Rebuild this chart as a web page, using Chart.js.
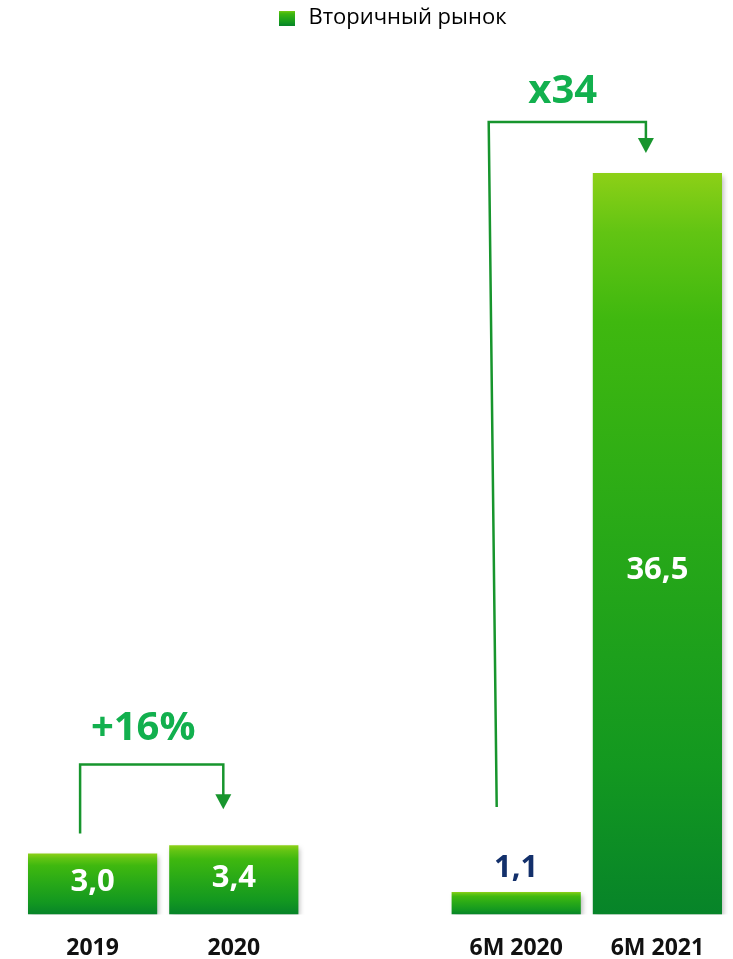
<!DOCTYPE html>
<html>
<head>
<meta charset="utf-8">
<script src="https://cdn.jsdelivr.net/npm/chart.js@4.4.1/dist/chart.umd.min.js"></script>
<style>
  html, body { margin: 0; padding: 0; background: #ffffff; }
  #wrap { width: 733px; height: 959px; position: relative; }
</style>
</head>
<body>
<div id="wrap"><canvas id="c" width="733" height="959"></canvas></div>
<script>
// ---- data ----
const categories = ['2019', '2020', '', '6M 2020', '6M 2021'];
const seriesName = 'Вторичный рынок';
const values = [3.0, 3.4, null, 1.1, 36.5];
const valueLabels = ['3,0', '3,4', '', '1,1', '36,5'];
const growthLabels = ['+16%', 'x34'];

const FONT = "'Open Sans', 'DejaVu Sans', sans-serif";
const ARROW = '#17952d';

function barGradient(ctx, top, bottom) {
  const g = ctx.createLinearGradient(0, top, 0, bottom);
  g.addColorStop(0, '#8dd017');
  g.addColorStop(0.08, '#62c413');
  g.addColorStop(0.2, '#3fb80f');
  g.addColorStop(0.5, '#27a818');
  g.addColorStop(0.8, '#139820');
  g.addColorStop(1, '#078429');
  return g;
}

// legend swatch
const sw = document.createElement('canvas');
sw.width = 16; sw.height = 15;
(function () {
  const c = sw.getContext('2d');
  c.fillStyle = barGradient(c, 0, 15);
  c.fillRect(0, 0, 16, 15);
})();

function scriptedFill(c) {
  const chart = c.chart;
  const y = chart.scales && chart.scales.y;
  if (!y || c.raw == null || !isFinite(y.top)) return '#27a818';
  const top = y.getPixelForValue(c.raw);
  const base = y.getPixelForValue(0);
  if (!isFinite(top) || !isFinite(base) || base - top < 1) return '#27a818';
  return barGradient(chart.ctx, top, base);
}

const gradientPlugin = {
  id: 'gradBars',
  afterLayout(chart) {
    chart.legend.left += 16;
    chart.legend.right += 16;
  },
  beforeDatasetsDraw(chart) {
    const ctx = chart.ctx;
    ctx.save();
    ctx.shadowColor = 'rgba(0,0,0,0.28)';
    ctx.shadowBlur = 5;
    ctx.shadowOffsetX = 2;
    ctx.shadowOffsetY = 3;
  },
  afterDatasetsDraw(chart) {
    const ctx = chart.ctx;
    ctx.restore();
    const meta = chart.getDatasetMeta(0);
    // value labels
    ctx.save();
    ctx.font = 'bold 31px ' + FONT;
    ctx.textAlign = 'center';
    ctx.textBaseline = 'middle';
    meta.data.forEach((el, i) => {
      if (values[i] == null) return;
      const h = el.base - el.y;
      if (h < 40) {
        ctx.fillStyle = '#13306b';
        ctx.fillText(valueLabels[i], el.x, el.y - 24);
      } else {
        ctx.fillStyle = '#ffffff';
        let y = (el.y + el.base) / 2;
        if (h > 300) y += 28;
        ctx.fillText(valueLabels[i], el.x, y - 2);
      }
    });
    ctx.restore();

    // growth arrows
    const d = meta.data;
    ctx.save();
    ctx.strokeStyle = ARROW;
    ctx.fillStyle = ARROW;
    ctx.lineWidth = 2.5;
    function arrow(x1b, y1b, x1t, yTop, x2, tipY) {
      ctx.beginPath();
      ctx.moveTo(x1b, y1b);
      ctx.lineTo(x1t, yTop);
      ctx.lineTo(x2, yTop);
      ctx.lineTo(x2, tipY - 12);
      ctx.stroke();
      ctx.beginPath();
      ctx.moveTo(x2 - 8, tipY - 15);
      ctx.lineTo(x2 + 8, tipY - 15);
      ctx.lineTo(x2, tipY);
      ctx.closePath();
      ctx.fill();
    }
    // 2019 -> 2020
    arrow(d[0].x - 12.5, d[0].y - 20, d[0].x - 12.5, d[0].y - 89, d[1].x - 10.5, d[1].y - 36);
    // 6M 2020 -> 6M 2021
    arrow(d[3].x - 19.5, d[3].y - 85, d[3].x - 27.5, d[4].y - 51, d[4].x - 11.5, d[4].y - 20);
    ctx.restore();

    ctx.save();
    ctx.font = 'bold 40px ' + FONT;
    ctx.fillStyle = '#12b04e';
    ctx.textAlign = 'center';
    ctx.textBaseline = 'middle';
    ctx.fillText(growthLabels[0], (d[0].x + d[1].x) / 2 - 20, d[0].y - 125);
    ctx.fillText(growthLabels[1], (d[3].x + d[4].x) / 2 - 24, d[4].y - 81);
    ctx.restore();
  }
};

new Chart(document.getElementById('c'), {
  type: 'bar',
  data: {
    labels: categories,
    datasets: [{
      label: seriesName,
      data: values,
      backgroundColor: scriptedFill,
      borderWidth: 0,
      categoryPercentage: 1.0,
      barPercentage: 0.915
    }]
  },
  options: {
    responsive: false,
    animation: false,
    layout: { padding: { left: 22, right: 5, top: 0, bottom: 0 } },
    plugins: {
      tooltip: { enabled: false },
      legend: {
        display: true,
        position: 'top',
        labels: {
          usePointStyle: true,
          pointStyle: sw,
          padding: 7,
          color: '#262626',
          font: { family: FONT, size: 22 },
          generateLabels: (chart) => [{
            text: seriesName,
            pointStyle: sw,
            fillStyle: '#27a818',
            strokeStyle: 'transparent',
            lineWidth: 0,
            datasetIndex: 0,
            hidden: false
          }]
        }
      }
    },
    scales: {
      x: {
        grid: { display: false, drawTicks: false },
        border: { display: false },
        afterFit: (scale) => { scale.height = scale.height - 23; },
        ticks: {
          padding: 20,
          color: '#111111',
          font: { family: FONT, size: 23, weight: 'bold' }
        }
      },
      y: {
        display: false,
        min: 0,
        max: 43.1
      }
    }
  },
  plugins: [gradientPlugin]
});
</script>
</body>
</html>
